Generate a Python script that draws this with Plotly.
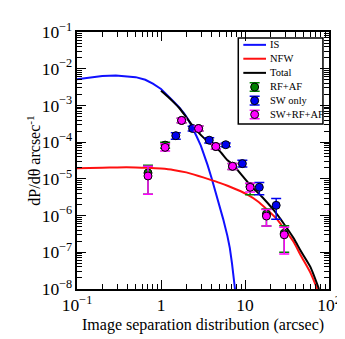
import plotly.graph_objects as go

# model curves
is_x = [0.1, 0.15, 0.2, 0.29, 0.4, 0.5, 0.65, 0.8, 1.0, 1.2, 1.4, 1.65, 1.9, 2.15, 2.38, 2.65, 2.98, 3.3, 3.58, 4.0, 4.3, 5.0, 5.5, 6.17, 6.6, 7.0, 7.6]
is_y = [5.2e-3, 5.9e-3, 6.3e-3, 6.5e-3, 6.3e-3, 5.9e-3, 5.0e-3, 3.9e-3, 2.8e-3, 1.9e-3, 1.3e-3, 8.8e-4, 5.9e-4, 3.8e-4, 2.45e-4, 1.45e-4, 8e-5, 4.3e-5, 2.4e-5, 1.05e-5, 6e-6, 1.8e-6, 8e-7, 2.8e-7, 1.3e-7, 5e-8, 1.0e-8]

nfw_x = [0.1, 0.2, 0.3, 0.5, 0.7, 1.0, 1.4, 2.0, 2.8, 3.6, 5.0, 6.2, 8.9, 10.7, 14, 18.4, 24, 29, 38, 46, 60, 72.6]
nfw_y = [1.95e-5, 2.0e-5, 2.05e-5, 2.05e-5, 2.0e-5, 1.9e-5, 1.75e-5, 1.5e-5, 1.2e-5, 1.0e-5, 7.8e-6, 6.5e-6, 4.6e-6, 3.7e-6, 2.5e-6, 1.45e-6, 8e-7, 4.5e-7, 1.9e-7, 8.3e-8, 2.8e-8, 1e-8]

tot_x = [1.0, 1.2, 1.4, 1.65, 1.9, 2.17, 2.6, 3.5, 4.9, 6.2, 7.1, 11.7, 16, 22, 29, 38, 46, 60, 76]
tot_y = [2.5e-3, 1.75e-3, 1.25e-3, 8.5e-4, 5.6e-4, 3.7e-4, 2.2e-4, 1.1e-4, 6e-5, 3.2e-5, 2.5e-5, 6.5e-6, 3.2e-6, 1.4e-6, 6e-7, 2.4e-7, 1.1e-7, 4e-8, 1e-8]

# data points
rf_x = [0.7, 1.12, 1.76, 2.8, 4.5, 7.1, 11.5, 18, 29.3]
rf_y = [1.45e-5, 8.3e-5, 3.9e-4, 2.35e-4, 7.6e-5, 2.2e-5, 6.2e-6, 1.1e-6, 3.3e-7]
rf_up = [9e-6, 1.7e-5, 6e-5, 4e-5, 1.3e-5, 4e-6, 1.3e-6, 4e-7, 2e-7]
rf_dn = [1.07e-5, 1.5e-5, 5e-5, 3.5e-5, 1.2e-5, 4e-6, 2.5e-6, 5.8e-7, 2.3e-7]

sw_x = [1.5, 2.38, 3.75, 5.9, 9.3, 14.8, 23.5]
sw_y = [1.5e-4, 2.35e-4, 1.13e-4, 8.5e-5, 2.6e-5, 5.9e-6, 1.9e-6]
sw_up = [3e-5, 3.5e-5, 1.8e-5, 1e-5, 6e-6, 2e-6, 1e-6]
sw_dn = [3e-5, 3.5e-5, 1.8e-5, 1e-5, 5e-6, 2.2e-6, 1.1e-6]

all_x = [0.7, 1.12, 1.76, 2.8, 4.5, 7.1, 11.5, 18, 29.3]
all_y = [1.2e-5, 7.2e-5, 3.9e-4, 2.35e-4, 7.6e-5, 2.2e-5, 5.9e-6, 9.7e-7, 3e-7]
all_up = [1.0e-5, 1.8e-5, 6e-5, 4e-5, 1.3e-5, 4e-6, 1.7e-6, 5e-7, 1.8e-7]
all_dn = [8.2e-6, 1.5e-5, 5e-5, 3.5e-5, 1.2e-5, 4e-6, 1.5e-6, 4.5e-7, 2.1e-7]

legend_labels = ["IS", "NFW", "Total", "RF+AF", "SW only", "SW+RF+AF"]

FONT = "Liberation Serif, Times New Roman, serif"
BLUE_LINE = "#1010ff"
RED_LINE = "#ff1010"
GREEN = "#008000"
BLUE = "#0000ee"
MAGENTA = "#ff00ff"

fig = go.Figure()
fig.add_trace(go.Scatter(x=is_x, y=is_y, mode="lines", line=dict(color=BLUE_LINE, width=2)))
fig.add_trace(go.Scatter(x=nfw_x, y=nfw_y, mode="lines", line=dict(color=RED_LINE, width=2, shape="spline", smoothing=0.6)))
fig.add_trace(go.Scatter(x=tot_x, y=tot_y, mode="lines", line=dict(color="black", width=2, shape="spline", smoothing=0.6)))


def add_points(x, y, up, dn, color, xaxis="x", yaxis="y"):
    fig.add_trace(go.Scatter(
        x=x, y=y, mode="markers", xaxis=xaxis, yaxis=yaxis,
        marker=dict(size=8, color=color, line=dict(width=1, color="black")),
        error_y=dict(type="data", symmetric=False, array=up, arrayminus=dn,
                     color=color, thickness=1.5, width=5),
    ))


add_points(rf_x, rf_y, rf_up, rf_dn, GREEN)
add_points(sw_x, sw_y, sw_up, sw_dn, BLUE)
add_points(all_x, all_y, all_up, all_dn, MAGENTA)

# hand-made legend (plotly's own rows are too tall for this small box)
row_y = [0.950, 0.896, 0.841, 0.786, 0.733, 0.679]
fig.add_shape(type="rect", xref="x domain", yref="y domain", x0=0.64, x1=0.976, y0=0.642, y1=0.977,
              line=dict(color="black", width=1.5), fillcolor="white", layer="below")
for yy, color in zip(row_y[:3], [BLUE_LINE, RED_LINE, "black"]):
    fig.add_shape(type="line", xref="x domain", yref="y domain", x0=0.66, x1=0.75, y0=yy, y1=yy,
                  line=dict(color=color, width=2), layer="above")
for yy, color in zip(row_y[3:], [GREEN, BLUE, MAGENTA]):
    add_points([0.705], [yy], [0.017], [0.017], color, xaxis="x2", yaxis="y2")
for yy, label in zip(row_y, legend_labels):
    fig.add_annotation(xref="x domain", yref="y domain", x=0.758, y=yy, text=label, showarrow=False,
                       xanchor="left", yanchor="middle", font=dict(family=FONT, size=10.5, color="black"))

# axis titles
fig.add_annotation(xref="x domain", yref="y domain", x=0.5, y=-0.141, text="Image separation distribution (arcsec)",
                   showarrow=False, xanchor="center", yanchor="middle", font=dict(family=FONT, size=16, color="black"))
fig.add_annotation(xref="x domain", yref="y domain", x=-0.174, y=0.5, text="dP/dθ arcsec<sup>-1</sup>", textangle=-90,
                   showarrow=False, xanchor="center", yanchor="middle", font=dict(family=FONT, size=16, color="black"))

axis_common = dict(
    type="log", showgrid=False, zeroline=False, showline=True, linecolor="black", linewidth=2,
    mirror="allticks", ticks="inside", ticklen=9, tickwidth=1.2, tickcolor="black",
    exponentformat="power", dtick=1,
    minor=dict(ticks="inside", ticklen=5, tickwidth=1, tickcolor="black", showgrid=False),
    tickfont=dict(family=FONT, size=14, color="black"),
)

fig.update_xaxes(range=[-1, 2], **axis_common)
fig.update_yaxes(range=[-8, -1], **axis_common)

fig.update_layout(
    width=345, height=339,
    margin=dict(l=69, r=23, t=19, b=58),
    paper_bgcolor="white", plot_bgcolor="white",
    font=dict(family=FONT, color="black"),
    showlegend=False,
    xaxis2=dict(overlaying="x", range=[0, 1], visible=False),
    yaxis2=dict(overlaying="y", range=[0, 1], visible=False),
)

fig.write_html("out.html")
